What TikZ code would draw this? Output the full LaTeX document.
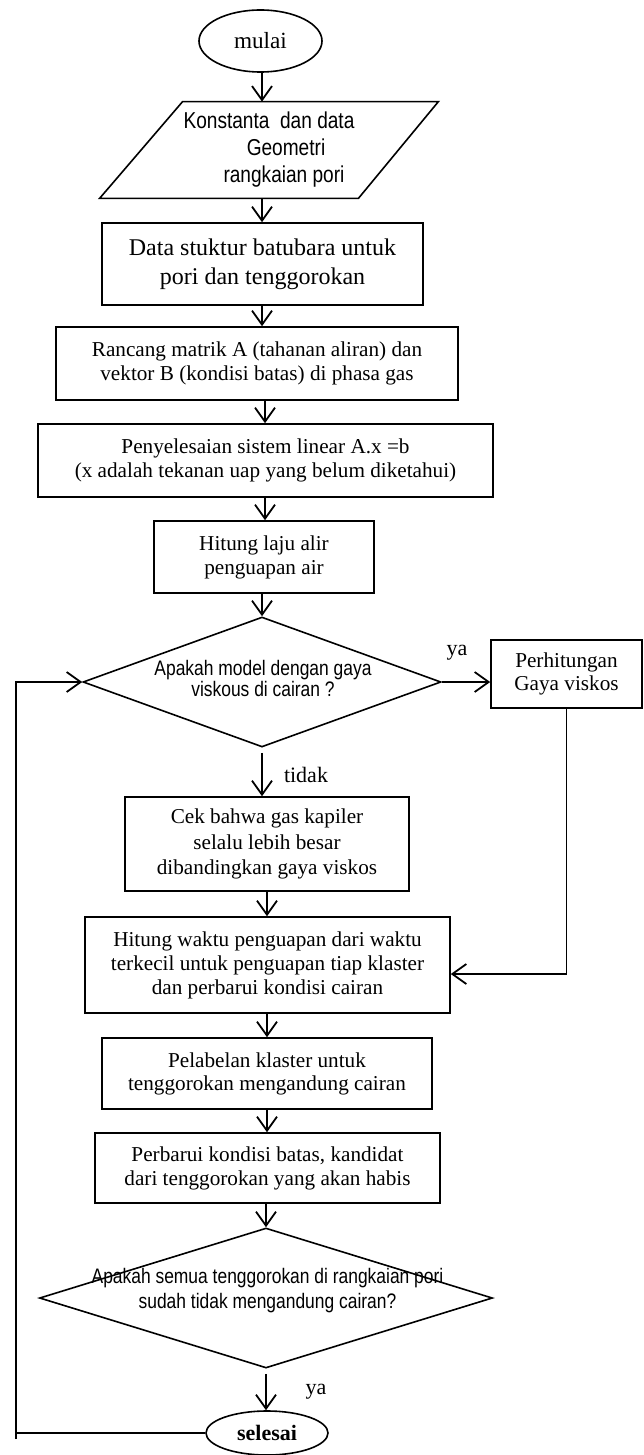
\documentclass[tikz,border=0pt]{standalone}
\usepackage{fontspec}
\setmainfont{Liberation Serif}
\newfontfamily\nsans{Liberation Sans}[FakeStretch=0.83]
\usetikzlibrary{shapes.geometric,arrows.meta,calc}
\begin{document}
\begin{tikzpicture}[x=0.5pt,y=-0.5pt,
  shp/.style={draw, line width=0.8pt},
  box/.style={shp, rectangle, inner sep=0pt, align=center, font=\fontsize{10.6}{12}\selectfont},
  arr/.style={-{Straight Barb[length=7pt,width=10pt]}, line width=0.9pt},
  plain/.style={line width=0.9pt},
  lab/.style={inner sep=0pt, font=\fontsize{11}{13}\selectfont},
  dtext/.style={inner sep=0pt, align=center}]
\fill[white] (0,0) rectangle (643,1455);
\useasboundingbox (0,0) rectangle (643,1455);
\coordinate (cA) at (262,0);
\coordinate (cB) at (265,0);
\coordinate (cC) at (267,0);

\node[shp, ellipse, minimum width=61.5pt, minimum height=31pt, inner sep=0pt,
      font=\fontsize{11.6}{13}\selectfont] (mulai) at (260.5,41) {mulai};

\node[inner sep=0pt, minimum width=169pt, minimum height=48pt, align=center,
      font=\nsans\fontsize{11.5}{13.5}\selectfont] (para) at (269,150)
  {Konstanta\ \ dan data\\\hspace*{17pt}Geometri\\\hspace*{15pt}rangkaian pori};
\draw[shp] (para.south west) -- ($(para.north west)+(83,0)$) -- (para.north east)
  -- ($(para.south east)+(-80,0)$) -- cycle;

\node[box, minimum width=160.5pt, minimum height=41pt, font=\fontsize{12}{14.5}\selectfont]
  (b2) at (262.5,264) {Data stuktur batubara untuk\\pori dan tenggorokan};
\node[box, minimum width=201pt, minimum height=36.5pt] (b3) at (257,363.5)
  {Rancang matrik A (tahanan aliran) dan\\vektor B (kondisi batas) di phasa gas};
\node[box, minimum width=227.5pt, minimum height=36.5pt] (b4) at (265.5,460.5)
  {Penyelesaian sistem linear A.x =b\\(x adalah tekanan uap yang belum diketahui)};
\node[box, minimum width=110pt, minimum height=36pt] (b5) at (264,557)
  {Hitung laju alir\\penguapan air};

\node[shp, diamond, minimum width=179pt, minimum height=65pt, inner sep=0pt] (d1) at (262,682) {};
\node[dtext, font=\nsans\fontsize{10.5}{10.8}\selectfont] (d1t) at (263,678.5)
  {Apakah model dengan gaya\\viskous di cairan ?};

\node[box, minimum width=75.5pt, minimum height=34pt, font=\fontsize{10.6}{11.5}\selectfont]
  (b6) at (566.5,674) {Perhitungan\\Gaya viskos};

\node[box, minimum width=142pt, minimum height=47pt, font=\fontsize{10.6}{12.7}\selectfont]
  (b7) at (267,844) {Cek bahwa gas kapiler\\selalu lebih besar\\dibandingkan gaya viskos};
\node[box, minimum width=182.5pt, minimum height=48pt] (b8) at (267.5,965)
  {Hitung waktu penguapan dari waktu\\terkecil untuk penguapan tiap klaster\\dan perbarui kondisi cairan};
\node[box, minimum width=165pt, minimum height=35.5pt, font=\fontsize{10.6}{11.5}\selectfont]
  (b9) at (267,1073.5) {Pelabelan klaster untuk\\tenggorokan mengandung cairan};
\node[box, minimum width=172.5pt, minimum height=35pt] (b10) at (267.5,1168)
  {Perbarui kondisi batas, kandidat\\dari tenggorokan yang akan habis};

\node[shp, diamond, minimum width=226.5pt, minimum height=70pt, inner sep=0pt] (d2) at (266,1298) {};
\node[dtext, font=\nsans\fontsize{10.5}{12.5}\selectfont] (d2t) at (267.5,1290.5)
  {Apakah semua tenggorokan di rangkaian pori\\sudah tidak mengandung cairan?};

\node[shp, ellipse, minimum width=61pt, minimum height=22pt, inner sep=0pt,
      font=\bfseries\fontsize{11}{13}\selectfont] (sel) at (267,1433) {selesai};

\node[lab] (ya1) at (457,653) {ya};
\node[lab] (tdk) at (306,775) {tidak};
\node[lab] (ya2) at (316,1392) {ya};

\draw[arr] (mulai.south -| cA) -- (para.north -| cA);
\draw[arr] (para.south -| cA) -- (b2.north -| cA);
\draw[arr] (b2.south -| cA) -- (b3.north -| cA);
\draw[arr] (b3.south -| cB) -- (b4.north -| cB);
\draw[arr] (b4.south -| cB) -- (b5.north -| cB);
\draw[arr] (b5.south -| d1.north) -- (d1.north);
\draw[arr, shorten <=2.5pt] (d1.south) -- (d1.south |- b7.north);
\draw[arr] (d1.east) -- (d1.east -| b6.west);
\draw[arr] (b6.south) |- ($(b8.east)+(0,9)$);
\draw[arr] (b7.south -| cC) -- (b8.north -| cC);
\draw[arr] (b8.south -| cC) -- (b9.north -| cC);
\draw[arr] (b9.south -| cC) -- (b10.north -| cC);
\draw[arr] (b10.south -| d2.north) -- (d2.north);
\draw[arr, shorten <=2.5pt] (d2.south) -- (d2.south |- sel.north);

\coordinate (lb) at (16,1433);
\coordinate (lbot) at (16,1439);
\draw[plain] (sel.west) -- (lb);
\draw[arr] (lbot) -- (lb |- d1.west) -- (d1.west);
\end{tikzpicture}
\end{document}
